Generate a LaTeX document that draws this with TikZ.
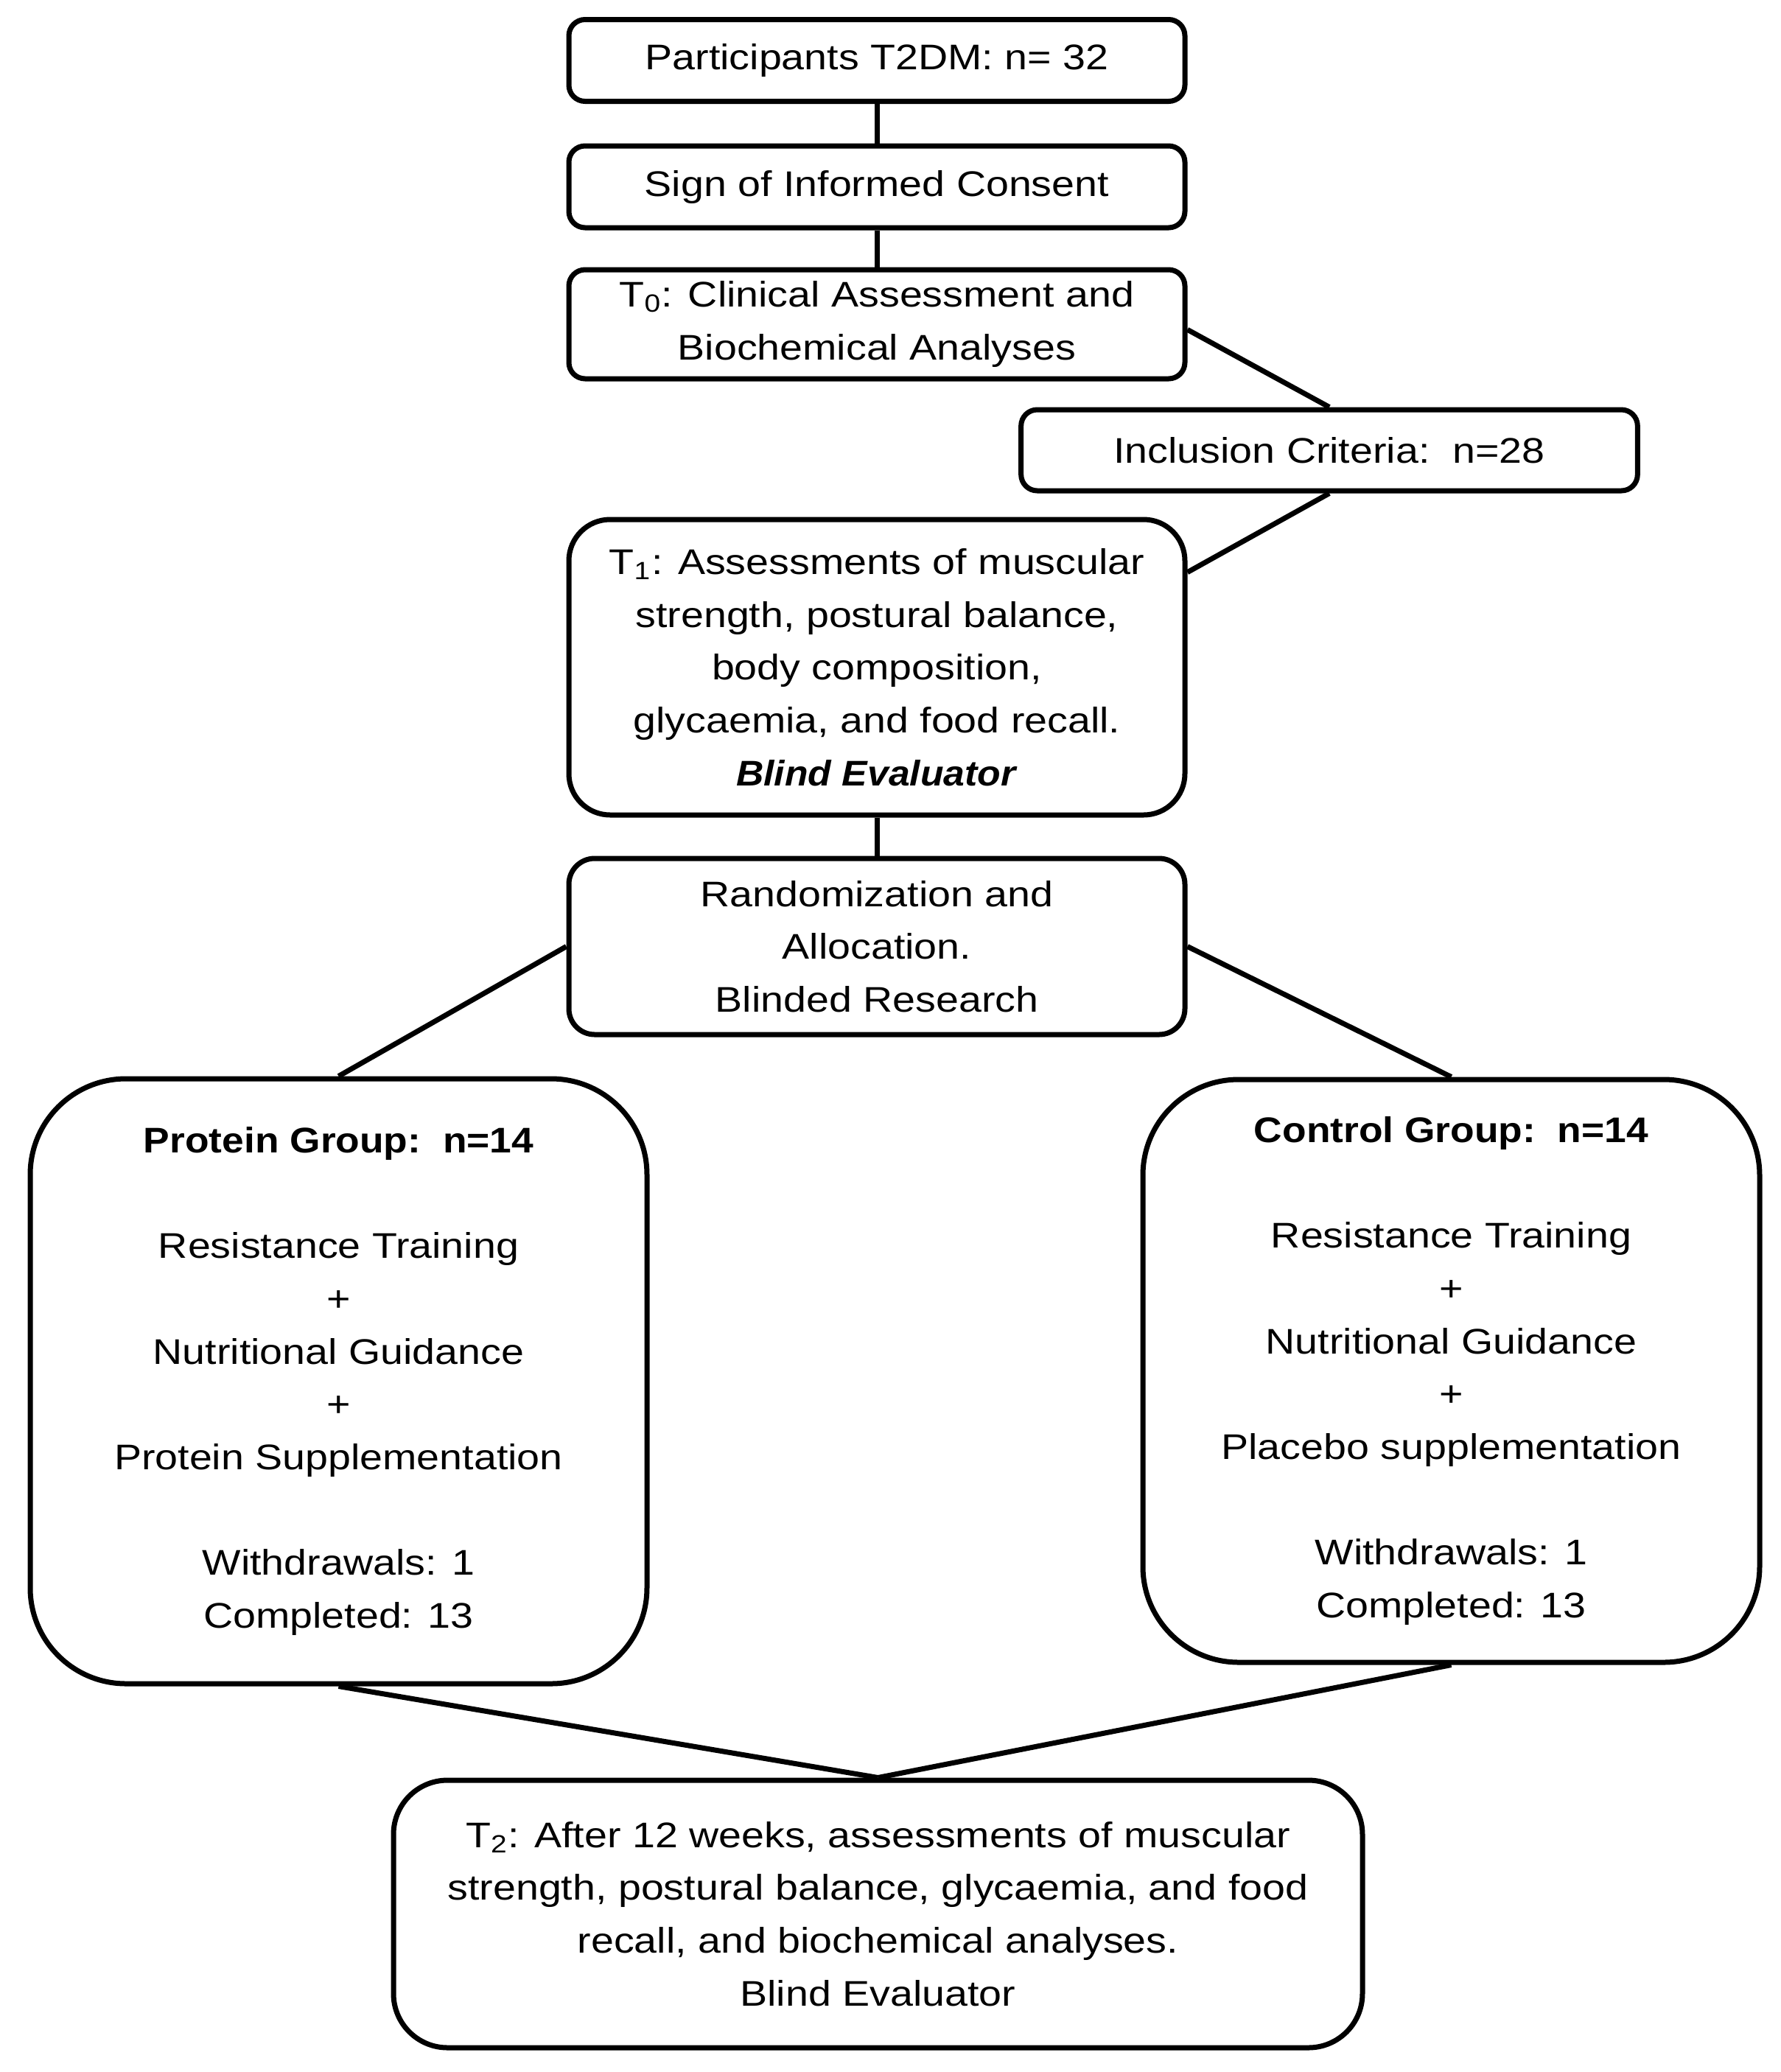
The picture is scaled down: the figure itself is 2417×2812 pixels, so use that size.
\documentclass[tikz,border=0pt]{standalone}
\usepackage{fontspec}
\usepackage{graphicx}
\setmainfont{Liberation Sans}[FakeStretch=1.15]
\begin{document}
\begin{tikzpicture}[x=0.3pt,y=-0.3pt,line width=2.1pt,
  box/.style={draw,line width=2.1pt,align=center,inner sep=0pt,
    minimum width=250.8pt,rounded corners=6.6pt,
    font=\fontsize{14.5}{21.5}\selectfont},
  bigbox/.style={box,rounded corners=39pt}]
\useasboundingbox (0,0) rectangle (2417,2812);

\node[box,minimum height=33.3pt] (b1) at (1190,82) {Participants T2DM: n= 32};
\node[box,minimum height=33.3pt] (b2) at (1190,253.5) {Sign of Informed Consent};
\node[box,minimum height=44.4pt] (b3) at (1190,440) {T\textsubscript{0}: Clinical Assessment and\\Biochemical Analyses};
\node[box,minimum height=33pt,minimum width=251pt] (inc) at (1804,611) {Inclusion Criteria:\ \ n=28};
\node[box,minimum height=120.3pt,rounded corners=16.8pt] (t1) at (1190,905.5)
  {T\textsubscript{1}: Assessments of muscular\\strength, postural balance,\\body composition,\\glycaemia, and food recall.\\\scalebox{0.93}[1]{\textbf{\textit{Blind Evaluator}}}};
\node[box,minimum height=71.7pt,rounded corners=10.5pt] (rand) at (1190,1284.5)
  {Randomization and\\Allocation.\\Blinded Research};
\node[bigbox,minimum height=246.3pt,minimum width=251.1pt] (prot) at (459.5,1874.5)
  {\scalebox{0.96}[1]{\textbf{Protein Group:\ \ n=14}}\\[21.5pt]Resistance Training\\+\\Nutritional Guidance\\+\\Protein Supplementation\\[21.5pt]Withdrawals: 1\\Completed: 13};
\node[bigbox,minimum height=237.3pt,minimum width=251.1pt] (ctrl) at (1969.5,1860.5)
  {\scalebox{0.96}[1]{\textbf{Control Group:\ \ n=14}}\\[21.5pt]Resistance Training\\+\\Nutritional Guidance\\+\\Placebo supplementation\\[21.5pt]Withdrawals: 1\\Completed: 13};
\node[box,minimum height=108.9pt,minimum width=394.5pt,rounded corners=22pt] (t2) at (1191.5,2597.5)
  {T\textsubscript{2}: After 12 weeks, assessments of muscular\\strength, postural balance, glycaemia, and food\\recall, and biochemical analyses.\\Blind Evaluator};

\draw (b1) -- (b2);
\draw (b2) -- (b3);
\draw (b3.-1.6) -- (inc.north);
\draw (inc.south) -- (t1.17);
\draw (t1) -- (rand);
\draw (rand.west) -- (prot.north);
\draw (rand.east) -- (ctrl.north);
\draw (prot.south) -- (t2.north);
\draw (ctrl.south) -- (t2.north);
\end{tikzpicture}
\end{document}
